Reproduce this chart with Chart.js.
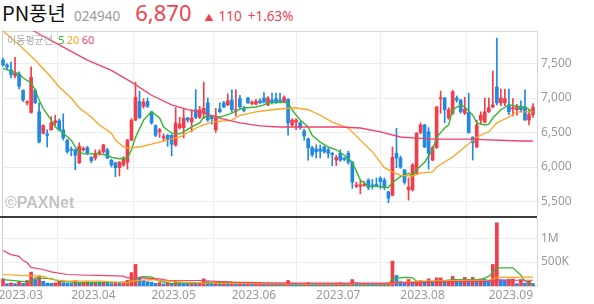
<!DOCTYPE html>
<html>
<head>
<meta charset="utf-8">
<script src="https://cdn.jsdelivr.net/npm/chart.js@4.4.0/dist/chart.umd.min.js"></script>
<style>
  body { margin: 0; width: 594px; height: 304px; position: relative; overflow: hidden; background: #fff; font-family: 'Noto Sans', 'Noto Sans CJK KR', sans-serif; }
  #hdr { position: absolute; left: 2px; top: 0; height: 26px; display: flex; align-items: baseline; white-space: nowrap; line-height: 24px; }
  #hdr .nm { font-family: 'Noto Sans CJK KR', sans-serif; font-size: 20px; color: #111; }
  #hdr .cd { font-size: 13.5px; color: #9a9a9a; margin-left: 8px; }
  #hdr .px { font-size: 22px; color: #f2404e; margin-left: 15px; }
  #hdr .ch { font-size: 13.5px; color: #f2404e; }
  #hdr .tri { font-size: 9px; color: #f2404e; margin-left: 13px; margin-right: 5px; }
  #legend { position: absolute; left: 7px; top: 33px; font-size: 10px; line-height: 14px; color: #aaa; font-family: 'Noto Sans CJK KR', sans-serif; white-space: nowrap; }
  #legend b { font-weight: normal; font-family: 'Noto Sans', sans-serif; font-size: 11px; }
  #wm { position: absolute; left: 5px; top: 194px; font: bold 16px 'Liberation Sans', sans-serif; color: #c4c4c4; }
  .line { position: absolute; }
  canvas { position: absolute; left: 0; }
</style>
</head>
<body>
<div class="line" style="left:2px;top:31px;width:1px;height:256px;background:#cfcfcf"></div>
<canvas id="price" width="594" height="185" style="top:31px"></canvas>
<canvas id="vol" width="594" height="86" style="top:218px"></canvas>
<div class="line" style="left:0;top:216px;width:537px;height:2px;background:#3c3c3c"></div>
<div id="hdr"><span class="nm">PN풍년</span><span class="cd">024940</span><span class="px" id="last"></span><span class="tri">▲</span><span class="ch" id="chg"></span><span class="ch" id="pct" style="margin-left:6px"></span></div>
<div id="legend">이동평균선 <b style="color:#33b633;margin-left:3px">5</b> <b style="color:#ffa31f">20</b> <b style="color:#f2406a">60</b></div>
<div id="wm">©PAXNet</div>
<script>
// trading days shown, Feb 28 .. Sep 8 2023
const months = ['2023.02', '2023.03', '2023.04', '2023.05', '2023.06', '2023.07', '2023.08', '2023.09'];
const monthDays = [
  [28],
  [2,3,6,7,8,9,10,13,14,15,16,17,20,21,22,23,24,27,28,29,30,31],
  [3,4,5,6,7,10,11,12,13,14,17,18,19,20,21,24,25,26,27,28],
  [2,3,4,8,9,10,11,12,15,16,17,18,19,22,23,24,25,26,30,31],
  [1,2,5,7,8,9,12,13,14,15,16,19,20,21,22,23,26,27,28,29,30],
  [3,4,5,6,7,10,11,12,13,14,17,18,19,20,21,24,25,26,27,28,31],
  [1,2,3,4,7,8,9,10,11,14,16,17,18,21,22,23,24,25,28,29,30,31],
  [1,4,5,6,7,8]
];
const dates = months.flatMap((m, k) => monthDays[k].map(d => m + '.' + String(d).padStart(2, '0')));

const open = [7550,7480,7410,7320,7350,7110,6930,6790,7110,6800, 6490,6480,6540,6640,6670,6540,6390,6260,6250,6060,
  6250,6280,6140,6130,6200,6220,6250,6100,6060,5990, 6030,6070,6390,6680,6950,6880,6950,6800,6600,6510,
  6420,6460,6460,6320,6570,6570,6710,6650,6830,6720, 6780,6930,6720,6540,6840,6930,6900,6970,6810,6990,
  6840,7000,6920,6910,6960,7000,6900,6970,6990,6970, 6950,6980,6610,6650,6640,6520,6410,6280,6260,6260,
  6290,6250,6200,6100,6200,6130,6200,6070,5720,5720, 5730,5810,5740,5750,5840,5810,5640,5590,6200,6130,
  5960,5670,5670,5910,6500,6610,6510,6100,6280,6990, 7000,6710,6780,7000,6970,6780,6790,6430,6290,6680,
  6650,6800,6870,7160,6930,6930,6900,6840,6830,6870, 6870,6680,6760];
const high = [7580,7500,7520,7590,7380,7120,6960,7450,7130,6930, 6610,6540,6730,6750,6700,6770,6400,6290,6260,6350,
  6290,6300,6150,6250,6250,6330,6270,6110,6070,6080, 6150,6400,6700,7230,7100,6990,7000,6810,6610,6560,
  6480,6470,6470,6860,6720,6850,6720,6830,7120,6880, 7230,7000,6730,6850,6930,6950,7060,7120,7120,7040,
  6880,7010,6960,6980,6990,7080,7020,7070,7070,7070, 7030,6990,6700,6700,6660,6550,6420,6300,6320,6320,
  6300,6270,6210,6170,6250,6140,6230,6080,5780,5800, 5790,5830,5820,5840,5860,5840,5650,6290,6560,6160,
  5960,5840,6050,6500,6640,6620,6570,6300,6880,7100, 7010,6860,7110,7030,6980,7010,7070,6440,6680,6800,
  7000,7000,7390,7870,7130,7130,7130,6990,6910,6960, 7120,6820,6920];
const low = [7460,7410,7290,7290,7130,6950,6900,6780,6920,6350, 6480,6290,6530,6600,6520,6390,6200,6160,5960,6050,
  6230,6180,6060,6100,6170,6200,6120,6000,5860,5870, 6010,5970,6380,6670,6700,6850,6860,6620,6440,6430,
  6380,6300,6160,6300,6550,6420,6650,6510,6700,6700, 6700,6660,6620,6500,6790,6860,6890,6790,6740,6850,
  6800,6920,6900,6900,6920,6930,6890,6910,6920,6930, 6940,6460,6590,6540,6550,6390,6100,6150,6130,6130,
  6200,6130,6020,6020,6080,6090,6040,5690,5700,5610, 5720,5670,5680,5710,5680,5670,5480,5580,5990,5980,
  5750,5520,5650,5900,6480,6280,5970,6090,6270,6780, 6640,6690,6760,6940,6780,6760,6490,6100,6280,6620,
  6640,6790,6860,6900,6890,6890,6760,6740,6750,6800, 6680,6610,6720];
const close = [7480,7450,7340,7360,7170,6970,6950,7300,6930,6360, 6600,6460,6640,6670,6540,6420,6220,6240,6170,6300,
  6270,6200,6090,6200,6220,6320,6130,6030,5990,6070, 6130,6390,6680,7010,6720,6940,6880,6640,6460,6540,
  6440,6400,6330,6640,6620,6710,6680,6710,6720,6830, 6850,6680,6700,6710,6800,6870,6960,6830,6830,6870,
  6820,6930,6940,6950,6930,6940,7000,6940,6930,6950, 7010,6640,6680,6680,6570,6450,6280,6180,6220,6230,
  6220,6200,6180,6140,6100,6110,6070,5780,5740,5740, 5750,5700,5720,5730,5790,5700,5550,6140,6130,6000,
  5780,5710,6030,6490,6610,6290,6200,6280,6870,7000, 6830,6830,7090,6970,6800,6840,6500,6350,6610,6750,
  6800,6860,6900,6930,7000,6990,6800,6860,6870,6830, 6680,6760,6870];
// volume, thousands of shares
const volume = [150,50,65,50,100,55,115,290,135,205, 100,60,55,65,100,70,55,50,110,70,
  75,90,60,70,55,80,60,50,70,55, 85,120,280,450,170,120,90,80,55,70,
  45,60,50,110,70,60,45,60,55,70, 150,90,60,75,55,65,50,60,45,55,
  45,50,45,45,50,45,55,45,50,40, 55,115,60,50,45,55,70,55,45,50,
  40,45,40,50,65,45,50,135,70,45, 55,50,45,40,50,45,60,520,220,100,
  70,135,80,100,110,90,150,80,170,170, 90,100,200,130,90,180,140,180,130,150,
  140,120,450,1320,135,130,140,145,50,135, 60,100,50];

// moving averages at these day indices
const ma5At = [0,4,5,7,8,9,10,12,13,14,15,17,18,19,20,22,24,26,27,29,31,32,33,35,37,39,40,42,44,45,47,49,50,52,54,55,57,59,60,63,65,66,69,71,72,74,76,77,79,81,83,85,87,89,91,93,95,96,97,99,101,102,103,105,107,108,110,111,112,114,115,117,118,120,121,122,124,126,128,130,132];
const ma5 = [7430,7350,7290,7220,7120,6970,6850,6680,6580,6540,6490,6390,6290,6220,6190,6190,6190,6170,6140,6120,6130,6250,6430,6680,6800,6710,6580,6490,6480,6510,6580,6640,6725,6740,6725,6740,6780,6840,6855,6870,6900,6930,6940,6930,6830,6680,6580,6460,6360,6290,6250,6170,6070,5810,5720,5720,5710,5700,5780,5860,5910,5870,5960,6070,6250,6430,6565,6610,6830,6900,6870,6750,6640,6610,6620,6710,6830,6900,6880,6870,6800];
const ma20At = [0,4,8,12,14,17,19,22,24,27,28,30,31,34,37,41,44,49,52,57,59,63,67,72,73,76,79,82,86,89,92,95,97,99,102,104,107,108,112,115,118,121,123,126,128,132];
const ma20 = [7970,7770,7550,7300,7160,7000,6855,6725,6610,6490,6390,6290,6275,6290,6330,6390,6435,6590,6650,6680,6750,6800,6830,6855,6855,6830,6750,6650,6565,6390,6220,5990,5930,5880,5870,5910,5930,6000,6145,6290,6435,6510,6640,6725,6800,6800];
const ma60At = [0,8,14,21,27,32,37,42,46,49,54,59,64,69,74,84,89,94,99,103,107,116,129,132];
const ma60 = [8200,7960,7770,7550,7400,7230,7040,6900,6830,6800,6710,6640,6595,6580,6580,6580,6565,6510,6435,6420,6405,6405,6377,6377];
const vma5At = [0,4,7,8,12,14,19,32,33,35,37,39,42,49,56,62,74,96,97,100,102,103,107,112,119,121,123,127,129,130,132];
const vma5 = [135,100,80,170,155,100,65,80,170,195,190,100,50,65,80,55,40,40,155,180,170,100,80,135,135,200,380,380,225,100,45];
const vma20At = [0,4,10,12,16,24,31,32,37,41,49,57,74,97,98,107,121,122,123,132];
const vma20 = [240,220,205,135,100,100,65,100,135,100,65,55,45,50,75,110,125,150,180,185];
const vma60At = [0,2,4,5,6,7,10,12,16,21,24,30,31,34,39,41,49,57,66,74,96,107,121,123,132];
const vma60 = [740,655,620,530,490,390,345,295,240,225,220,205,170,170,150,120,115,80,65,62,60,80,95,120,120];

const priceTicks = [5500, 6000, 6500, 7000, 7500];
const volTicks = [500, 1000];

const RED = '#f23d4b', BLUE = '#2188e6';
const GREEN = '#33b633', ORANGE = '#ffa31f', PINK = '#f2406a';
const GRID = '#ededed', FRAME = '#d6d6d6';

Chart.defaults.font.family = "'Noto Sans', sans-serif";
Chart.defaults.font.size = 12;
Chart.defaults.color = '#9a9a9a';

const n = close.length;
const lastC = close[n - 1], prevC = close[n - 2];
document.getElementById('last').textContent = lastC.toLocaleString('en-US');
document.getElementById('chg').textContent = (lastC - prevC).toLocaleString('en-US');
document.getElementById('pct').textContent = '+' + ((lastC - prevC) / prevC * 100).toFixed(2) + '%';

const pts = (at, vals, k) => at.map((x, j) => ({ x: x, y: vals[j] * (k || 1) }));

function monthTicks(scale) {
  const t = [];
  dates.forEach((d, i) => {
    if (i > 0 && d.slice(0, 7) !== dates[i - 1].slice(0, 7)) t.push({ value: i - 0.5 });
  });
  // first month label sits inside the plot, without its own grid line
  t[0] = { value: 4.4, hideGrid: true };
  scale.ticks = t;
}
const noPad = s => { s.paddingTop = 0; s.paddingBottom = 0; s.paddingLeft = 0; s.paddingRight = 0; };
const gridColor = ctx => (ctx.tick && ctx.tick.hideGrid) ? 'rgba(0,0,0,0)' : GRID;

const maLine = (data, color, w) => ({
  type: 'line', data: data, borderColor: color, borderWidth: w || 1.3,
  pointRadius: 0, tension: 0, order: 0
});
const candleColor = ctx => close[ctx.dataIndex] >= open[ctx.dataIndex] ? RED : BLUE;
const volColor = ctx => {
  const i = ctx.dataIndex;
  return i === 0 || volume[i] >= volume[i - 1] ? RED : BLUE;
};

new Chart(document.getElementById('price'), {
  type: 'bar',
  data: {
    datasets: [
      maLine(pts(ma60At, ma60), PINK, 1.3),
      maLine(pts(ma20At, ma20), ORANGE, 1.3),
      maLine(pts(ma5At, ma5), GREEN, 1.4),
      {
        data: open.map((o, i) => ({ x: i, y: [o, close[i]] })),
        backgroundColor: candleColor, barThickness: 3, minBarLength: 1,
        grouped: false, order: 1
      },
      {
        data: low.map((l, i) => ({ x: i, y: [l, high[i]] })),
        backgroundColor: candleColor, barThickness: 1,
        grouped: false, order: 2
      }
    ]
  },
  options: {
    responsive: false,
    animation: false,
    layout: { padding: { left: 1, right: 0, top: 0, bottom: 0 } },
    plugins: { legend: { display: false }, tooltip: { enabled: false } },
    scales: {
      x: {
        type: 'linear', position: 'top', min: -0.5, max: 133, offset: false,
        afterBuildTicks: monthTicks,
        afterFit: s => { s.height = 0; noPad(s); },
        ticks: { display: false },
        grid: { color: gridColor, drawTicks: false },
        border: { color: FRAME }
      },
      y: {
        position: 'right', min: 5290, max: 7971,
        afterBuildTicks: s => { s.ticks = priceTicks.map(v => ({ value: v })); },
        afterFit: s => { s.width = 57; noPad(s); },
        ticks: { padding: 4, callback: v => v.toLocaleString('en-US') },
        grid: { color: GRID, drawTicks: false },
        border: { color: FRAME }
      }
    }
  }
});

new Chart(document.getElementById('vol'), {
  type: 'bar',
  data: {
    datasets: [
      maLine(pts(vma60At, vma60, 1000), PINK, 1.2),
      maLine(pts(vma20At, vma20, 1000), ORANGE, 1.2),
      maLine(pts(vma5At, vma5, 1000), GREEN, 1.2),
      {
        data: volume.map((v, i) => ({ x: i, y: v * 1000 })),
        backgroundColor: volColor, barThickness: 3, order: 1
      }
    ]
  },
  options: {
    responsive: false,
    animation: false,
    layout: { padding: { left: 1, right: 0, top: 0, bottom: 0 } },
    plugins: { legend: { display: false }, tooltip: { enabled: false } },
    scales: {
      x: {
        type: 'linear', position: 'bottom', min: -0.5, max: 133, offset: false,
        afterBuildTicks: monthTicks,
        afterFit: s => { s.height = 18; noPad(s); },
        ticks: { autoSkip: false, maxRotation: 0, padding: 2, callback: v => dates[Math.ceil(v)].slice(0, 7) },
        grid: { color: gridColor, drawTicks: false },
        border: { color: FRAME }
      },
      y: {
        position: 'right', min: 0, max: 1420000,
        afterBuildTicks: s => { s.ticks = volTicks.map(v => ({ value: v * 1000 })); },
        afterFit: s => { s.width = 57; noPad(s); },
        ticks: { padding: 4, callback: v => v >= 1e6 ? (v / 1e6) + 'M' : (v / 1e3) + 'K' },
        grid: { color: GRID, drawTicks: false },
        border: { color: FRAME }
      }
    }
  }
});
</script>
</body>
</html>
